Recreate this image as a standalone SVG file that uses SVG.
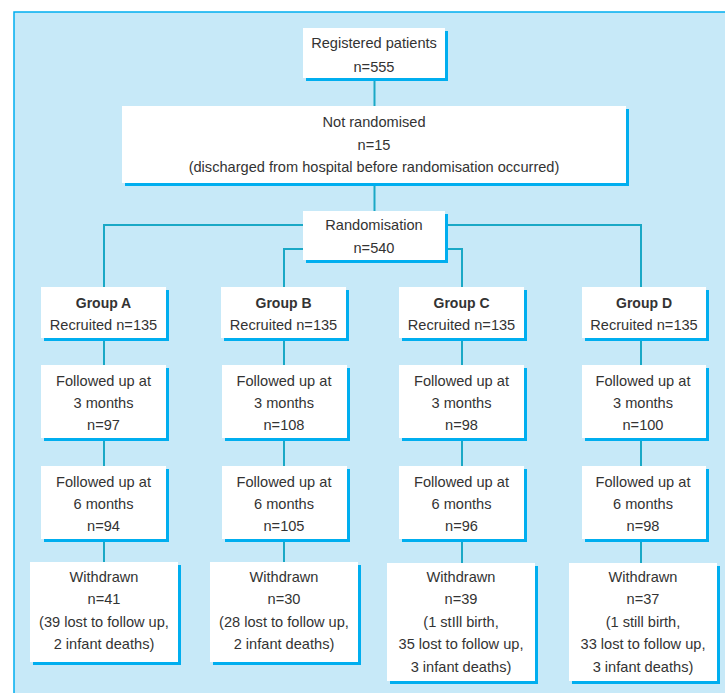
<svg xmlns="http://www.w3.org/2000/svg" width="725" height="693" viewBox="0 0 725 693">
<style>
text{font-family:"Liberation Sans",Arial,sans-serif;font-size:14.6px;fill:#333;text-anchor:middle}
.b{font-weight:bold;font-size:14px}
.sh{fill:#00aeef}
.bx{fill:#fff}
.c{fill:none;stroke:#1aa8c6;stroke-width:2}
</style>
<rect x="0" y="0" width="725" height="693" fill="#fff"/>
<rect x="14" y="12" width="720" height="690" fill="#c7e9f8"/>
<path d="M14,693 V12 H725" fill="none" stroke="#00aeef" stroke-width="1.5"/>
<g id="connectors">
<path class="c" d="M374.5,81 V106"/>
<path class="c" d="M374.5,185 V211"/>
<path class="c" d="M303,225 H104 V287"/>
<path class="c" d="M448,225 H641 V287"/>
<path class="c" d="M303,249 H284 V287"/>
<path class="c" d="M448,249 H462 V287"/>
<path class="c" d="M104,340 V365 M104,440 V466 M104,541 V562"/>
<path class="c" d="M284,340 V365 M284,440 V466 M284,541 V562"/>
<path class="c" d="M462,340 V365 M462,440 V466 M462,541 V563"/>
<path class="c" d="M641,340 V365 M641,440 V466 M641,541 V563"/>
</g>
<g id="registered">
<rect class="sh" x="306" y="31" width="142" height="50"/>
<rect class="bx" x="303" y="28" width="142" height="50"/>
<text x="374" y="48">Registered patients</text>
<text x="374" y="72">n=555</text>
</g>
<g id="not-randomised">
<rect class="sh" x="125" y="109" width="504" height="77"/>
<rect class="bx" x="122" y="106" width="504" height="77"/>
<text x="374" y="127">Not randomised</text>
<text x="374" y="150">n=15</text>
<text x="374" y="172">(discharged from hospital before randomisation occurred)</text>
</g>
<g id="randomisation">
<rect class="sh" x="306" y="214" width="142" height="49"/>
<rect class="bx" x="303" y="211" width="142" height="49"/>
<text x="374" y="230">Randomisation</text>
<text x="374" y="253">n=540</text>
</g>
<g id="groupA">
<rect class="sh" x="44" y="290" width="125" height="51"/>
<rect class="bx" x="41" y="287" width="125" height="51"/>
<text class="b" x="103.5" y="308">Group A</text>
<text x="103.5" y="330">Recruited n=135</text>
</g>
<g id="groupB">
<rect class="sh" x="224" y="290" width="125" height="51"/>
<rect class="bx" x="221" y="287" width="125" height="51"/>
<text class="b" x="283.5" y="308">Group B</text>
<text x="283.5" y="330">Recruited n=135</text>
</g>
<g id="groupC">
<rect class="sh" x="402" y="290" width="125" height="51"/>
<rect class="bx" x="399" y="287" width="125" height="51"/>
<text class="b" x="461.5" y="308">Group C</text>
<text x="461.5" y="330">Recruited n=135</text>
</g>
<g id="groupD">
<rect class="sh" x="585" y="290" width="124" height="51"/>
<rect class="bx" x="582" y="287" width="124" height="51"/>
<text class="b" x="644" y="308">Group D</text>
<text x="644" y="330">Recruited n=135</text>
</g>
<g id="A3">
<rect class="sh" x="44" y="368" width="125" height="73"/>
<rect class="bx" x="41" y="365" width="125" height="73"/>
<text x="103.5" y="386">Followed up at</text>
<text x="103.5" y="408">3 months</text>
<text x="103.5" y="430">n=97</text>
</g>
<g id="B3">
<rect class="sh" x="225" y="368" width="125" height="73"/>
<rect class="bx" x="222" y="365" width="125" height="73"/>
<text x="284" y="386">Followed up at</text>
<text x="284" y="408">3 months</text>
<text x="284" y="430">n=108</text>
</g>
<g id="C3">
<rect class="sh" x="402" y="368" width="125" height="73"/>
<rect class="bx" x="399" y="365" width="125" height="73"/>
<text x="461.5" y="386">Followed up at</text>
<text x="461.5" y="408">3 months</text>
<text x="461.5" y="430">n=98</text>
</g>
<g id="D3">
<rect class="sh" x="585" y="368" width="124" height="73"/>
<rect class="bx" x="582" y="365" width="124" height="73"/>
<text x="643" y="386">Followed up at</text>
<text x="643" y="408">3 months</text>
<text x="643" y="430">n=100</text>
</g>
<g id="A6">
<rect class="sh" x="44" y="469" width="125" height="73"/>
<rect class="bx" x="41" y="466" width="125" height="73"/>
<text x="103.5" y="487">Followed up at</text>
<text x="103.5" y="509">6 months</text>
<text x="103.5" y="531">n=94</text>
</g>
<g id="B6">
<rect class="sh" x="225" y="469" width="125" height="73"/>
<rect class="bx" x="222" y="466" width="125" height="73"/>
<text x="284" y="487">Followed up at</text>
<text x="284" y="509">6 months</text>
<text x="284" y="531">n=105</text>
</g>
<g id="C6">
<rect class="sh" x="402" y="469" width="125" height="73"/>
<rect class="bx" x="399" y="466" width="125" height="73"/>
<text x="461.5" y="487">Followed up at</text>
<text x="461.5" y="509">6 months</text>
<text x="461.5" y="531">n=96</text>
</g>
<g id="D6">
<rect class="sh" x="585" y="469" width="124" height="73"/>
<rect class="bx" x="582" y="466" width="124" height="73"/>
<text x="643" y="487">Followed up at</text>
<text x="643" y="509">6 months</text>
<text x="643" y="531">n=98</text>
</g>
<g id="AW">
<rect class="sh" x="33" y="565" width="148" height="100"/>
<rect class="bx" x="30" y="562" width="148" height="100"/>
<text x="104" y="582">Withdrawn</text>
<text x="104" y="604">n=41</text>
<text x="104" y="627">(39 lost to follow up,</text>
<text x="104" y="649">2 infant deaths)</text>
</g>
<g id="BW">
<rect class="sh" x="213" y="565" width="148" height="100"/>
<rect class="bx" x="210" y="562" width="148" height="100"/>
<text x="284" y="582">Withdrawn</text>
<text x="284" y="604">n=30</text>
<text x="284" y="627">(28 lost to follow up,</text>
<text x="284" y="649">2 infant deaths)</text>
</g>
<g id="CW">
<rect class="sh" x="390" y="566" width="148" height="118"/>
<rect class="bx" x="387" y="563" width="148" height="118"/>
<text x="461" y="582">Withdrawn</text>
<text x="461" y="604">n=39</text>
<text x="461" y="627">(1 stIll birth,</text>
<text x="461" y="649">35 lost to follow up,</text>
<text x="461" y="672">3 infant deaths)</text>
</g>
<g id="DW">
<rect class="sh" x="572" y="566" width="148" height="118"/>
<rect class="bx" x="569" y="563" width="148" height="118"/>
<text x="643" y="582">Withdrawn</text>
<text x="643" y="604">n=37</text>
<text x="643" y="627">(1 still birth,</text>
<text x="643" y="649">33 lost to follow up,</text>
<text x="643" y="672">3 infant deaths)</text>
</g>
</svg>
